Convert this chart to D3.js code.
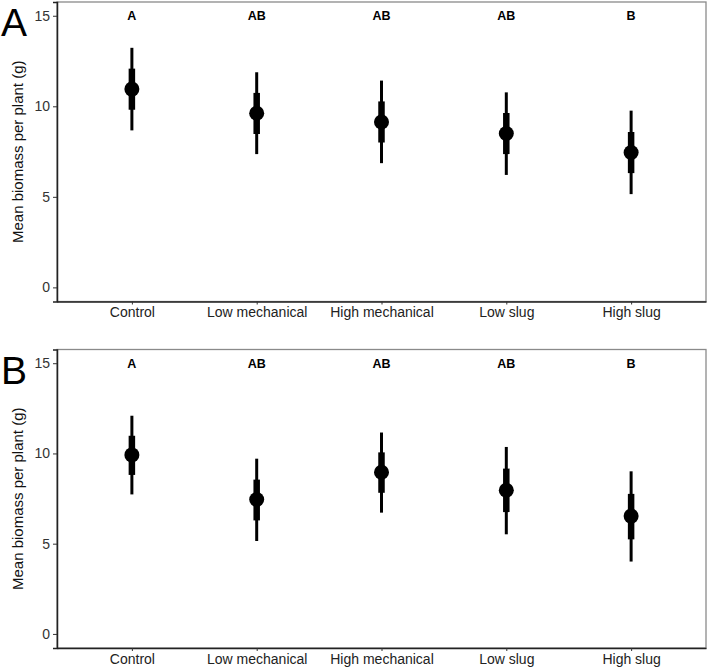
<!DOCTYPE html>
<html>
<head>
<meta charset="utf-8">
<script src="https://cdn.jsdelivr.net/npm/d3@7"></script>
<style>
  body { margin: 0; background: #fff; }
  svg text { font-family: "Liberation Sans", Arial, sans-serif; }
</style>
</head>
<body>
<div id="vis"></div>
<script>
const categories = ["Control", "Low mechanical", "High mechanical", "Low slug", "High slug"];
const yTicks = [0, 5, 10, 15];

// panel A
const meanA = [10.95, 9.62, 9.13, 8.50, 7.45];
const seLoA = [9.81, 8.47, 8.00, 7.36, 6.31];
const seHiA = [12.08, 10.74, 10.27, 9.63, 8.58];
const ciLoA = [8.67, 7.36, 6.86, 6.21, 5.15];
const ciHiA = [13.23, 11.88, 11.42, 10.77, 9.76];
const lettersA = ["A", "AB", "AB", "AB", "B"];

// panel B
const meanB = [9.92, 7.45, 8.96, 7.96, 6.53];
const seLoB = [8.81, 6.29, 7.82, 6.75, 5.24];
const seHiB = [10.98, 8.55, 10.06, 9.16, 7.76];
const ciLoB = [7.73, 5.15, 6.72, 5.52, 4.01];
const ciHiB = [12.09, 9.71, 11.16, 10.36, 9.01];
const lettersB = ["A", "AB", "AB", "AB", "B"];

const width = 709, height = 668;
const svg = d3.select("#vis").append("svg")
    .attr("width", width)
    .attr("height", height);

const left = 57, right = 706;

const x = d3.scalePoint()
    .domain(categories)
    .range([left, right])
    .padding(0.6);

function drawPanel(top, bottom, label, mean, seLo, seHi, ciLo, ciHi, letters) {
    const y = d3.scaleLinear()
        .domain([-0.78, 15.76])
        .range([bottom, top]);

    const g = svg.append("g");

    // panel border (top/right lighter)
    g.append("rect")
        .attr("x", left).attr("y", top)
        .attr("width", right - left).attr("height", bottom - top)
        .attr("fill", "none")
        .attr("stroke", "#8a8a8a")
        .attr("stroke-width", 1.3);

    const yAxis = g.append("g")
        .attr("transform", `translate(${left},0)`)
        .call(d3.axisLeft(y).tickValues(yTicks).tickSize(4).tickPadding(3));
    yAxis.select(".domain").attr("stroke", "#222").attr("stroke-width", 1.5);
    yAxis.selectAll(".tick line").attr("stroke", "#333").attr("stroke-width", 1);
    yAxis.selectAll(".tick text")
        .attr("fill", "#333")
        .style("font-size", "14px");

    const xAxis = g.append("g")
        .attr("transform", `translate(0,${bottom})`)
        .call(d3.axisBottom(x).tickSize(3).tickPadding(3).tickSizeOuter(0));
    xAxis.select(".domain").attr("stroke", "#222").attr("stroke-width", 1.5);
    xAxis.selectAll(".tick line").attr("stroke", "#333").attr("stroke-width", 1);
    xAxis.selectAll(".tick text")
        .attr("fill", "#222")
        .style("font-size", "14px");

    // y title
    g.append("text")
        .attr("transform", `translate(23,${(top + bottom) / 2}) rotate(-90)`)
        .attr("text-anchor", "middle")
        .style("font-size", "15px")
        .attr("fill", "#111")
        .text("Mean biomass per plant (g)");

    // panel letter
    g.append("text")
        .attr("x", 1)
        .attr("y", top + 34)
        .style("font-family", "'Liberation Sans Narrow', 'Liberation Sans', sans-serif")
        .style("font-size", "39px")
        .attr("fill", "#000")
        .text(label);

    const rows = categories.map((c, i) => ({
        c, mean: mean[i], seLo: seLo[i], seHi: seHi[i], ciLo: ciLo[i], ciHi: ciHi[i], letter: letters[i]
    }));

    g.selectAll("line.ci").data(rows).enter().append("line")
        .attr("class", "ci")
        .attr("x1", d => x(d.c)).attr("x2", d => x(d.c))
        .attr("y1", d => y(d.ciLo)).attr("y2", d => y(d.ciHi))
        .attr("stroke", "#000").attr("stroke-width", 3);

    g.selectAll("line.se").data(rows).enter().append("line")
        .attr("class", "se")
        .attr("x1", d => x(d.c)).attr("x2", d => x(d.c))
        .attr("y1", d => y(d.seLo)).attr("y2", d => y(d.seHi))
        .attr("stroke", "#000").attr("stroke-width", 6.5);

    g.selectAll("circle.mean").data(rows).enter().append("circle")
        .attr("class", "mean")
        .attr("cx", d => x(d.c)).attr("cy", d => y(d.mean))
        .attr("r", 7.5)
        .attr("fill", "#000");

    g.selectAll("text.sig").data(rows).enter().append("text")
        .attr("class", "sig")
        .attr("x", d => x(d.c))
        .attr("y", y(15))
        .attr("dy", "0.36em")
        .attr("text-anchor", "middle")
        .style("font-size", "12.5px")
        .style("font-weight", "bold")
        .attr("fill", "#000")
        .text(d => d.letter);
}

drawPanel(2, 301.5, "A", meanA, seLoA, seHiA, ciLoA, ciHiA, lettersA);
drawPanel(349.5, 648, "B", meanB, seLoB, seHiB, ciLoB, ciHiB, lettersB);
</script>
</body>
</html>
